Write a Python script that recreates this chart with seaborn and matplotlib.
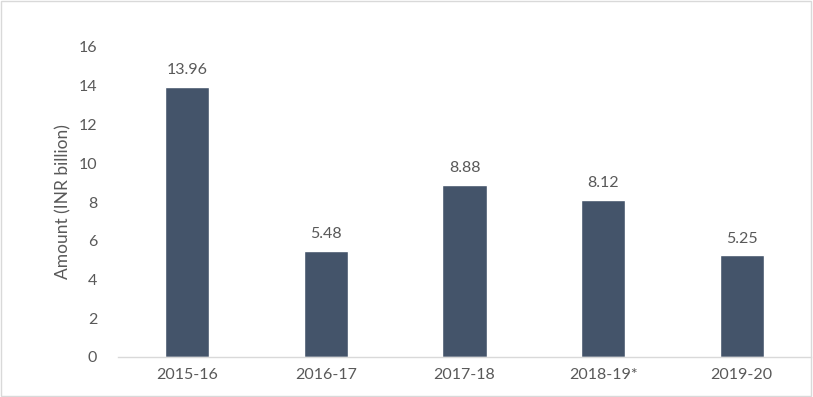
import matplotlib
matplotlib.use("Agg")
import matplotlib.pyplot as plt
import seaborn as sns
import pandas as pd

categories = ["2015-16", "2016-17", "2017-18", "2018-19*", "2019-20"]
values = [13.96, 5.48, 8.88, 8.12, 5.25]
yticks = [0, 2, 4, 6, 8, 10, 12, 14, 16]
ylabel = "Amount (INR billion)"

sns.set_theme(style="white")
plt.rcParams['font.family'] = ['Lato', 'DejaVu Sans']

df = pd.DataFrame({"year": categories, "amount": values})

fig = plt.figure(figsize=(8.13, 3.97), dpi=100)
ax = fig.add_axes([118/813, 40/397, (811-118)/813, 310/397])
sns.barplot(data=df, x="year", y="amount", color="#44546A", width=0.32,
            saturation=1, ax=ax)

text_col = "#595959"
fs = 11.5
ax.set_ylim(0, 16)
ax.set_xlim(-0.5, len(categories) - 0.5)
ax.set_yticks(yticks)
ax.set_yticklabels([str(t) for t in yticks])
ax.tick_params(axis='y', length=0, pad=15, labelsize=fs, labelcolor=text_col)
ax.tick_params(axis='x', length=0, pad=8, labelsize=fs, labelcolor=text_col)
ax.set_xlabel("")
ax.set_ylabel(ylabel, fontsize=12.5, color=text_col, labelpad=5)
for s in ["top", "right", "left"]:
    ax.spines[s].set_visible(False)
ax.spines["bottom"].set_color("#D9D9D9")
ax.spines["bottom"].set_linewidth(1)

for c in ax.containers:
    ax.bar_label(c, labels=[f"{v:.2f}" for v in values], padding=7,
                 fontsize=fs, color=text_col)

fig.patches.append(plt.Rectangle((0.001, 0.002), 0.997, 0.995, transform=fig.transFigure,
                                 fill=False, edgecolor="#D9D9D9", linewidth=1))

fig.savefig("out.png", dpi=100)
